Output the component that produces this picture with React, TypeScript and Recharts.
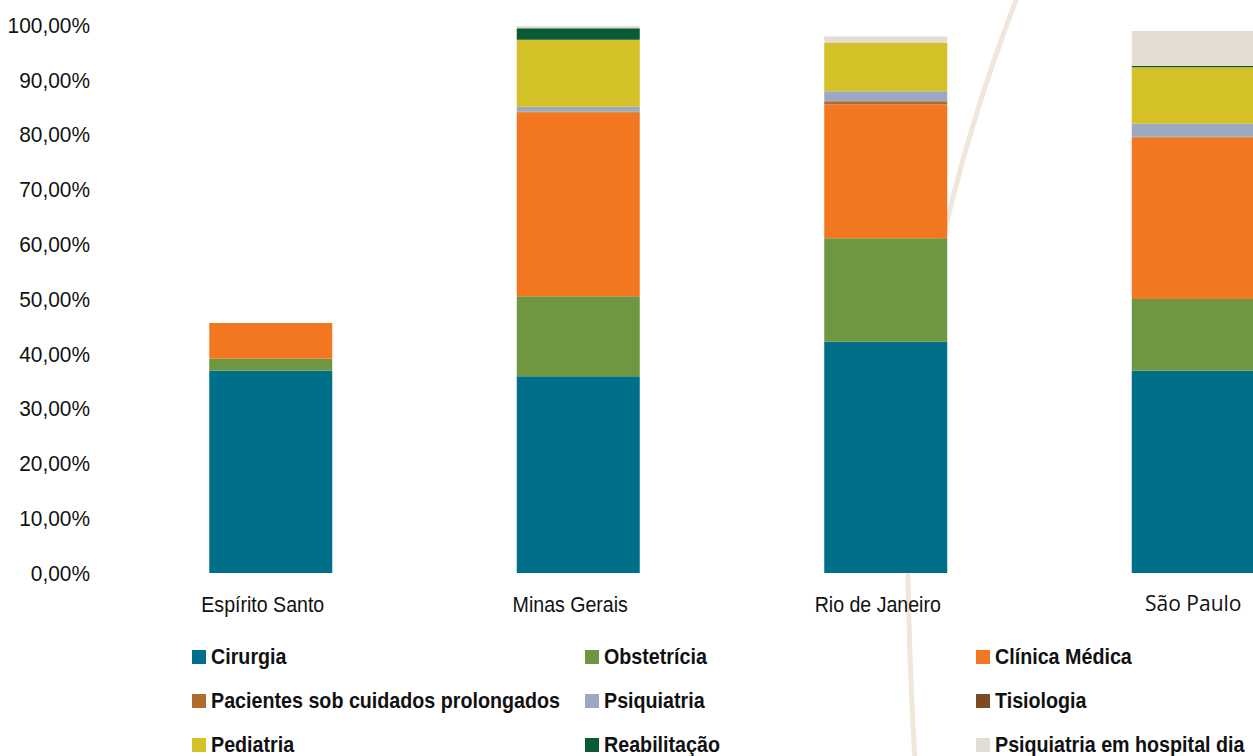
import { BarChart, Bar, XAxis, YAxis } from "recharts";

const states = ["Espírito Santo", "Minas Gerais", "Rio de Janeiro", "São Paulo"];

const cirurgia = [36.9, 35.9, 42.2, 36.9];
const obstetricia = [2.2, 14.6, 18.9, 13.1];
const clinicaMedica = [6.5, 33.6, 24.4, 29.5];
const pacientes = [0, 0.1, 0.6, 0.1];
const psiquiatria = [0, 0.9, 1.8, 2.4];
const tisiologia = [0, 0, 0, 0];
const pediatria = [0, 12.2, 8.8, 10.3];
const reabilitacao = [0, 2.1, 0, 0.2];
const hospitalDia = [0, 0.4, 1.2, 6.4];

const yTicks = [0, 10, 20, 30, 40, 50, 60, 70, 80, 90, 100];

const series = [
  { key: "cirurgia", name: "Cirurgia", color: "#006f8a", values: cirurgia },
  { key: "obstetricia", name: "Obstetrícia", color: "#6f9640", values: obstetricia },
  { key: "clinica", name: "Clínica Médica", color: "#f37721", values: clinicaMedica },
  { key: "pacientes", name: "Pacientes sob cuidados prolongados", color: "#ad6e2c", values: pacientes },
  { key: "psiquiatria", name: "Psiquiatria", color: "#9ba9c3", values: psiquiatria },
  { key: "tisiologia", name: "Tisiologia", color: "#7c4b21", values: tisiologia },
  { key: "pediatria", name: "Pediatria", color: "#d4c027", values: pediatria },
  { key: "reabilitacao", name: "Reabilitação", color: "#0a5a33", values: reabilitacao },
  { key: "hospitalDia", name: "Psiquiatria em hospital dia", color: "#e4ddd3", values: hospitalDia },
];

const data = states.map((state, i) => {
  const row: Record<string, string | number> = { state };
  series.forEach((s) => {
    row[s.key] = s.values[i];
  });
  return row;
});

const sans = "'Liberation Sans', Arial, sans-serif";

// the original uses a condensed Helvetica, so squeeze Liberation Sans a bit
function StateTick(props: any) {
  const { x, y, payload } = props;
  const sp = payload.value === "São Paulo";
  return (
    <g transform={`translate(${sp ? x : x - 8},${y})`}>
      <text
        transform={sp ? undefined : "scale(0.89,1)"}
        dy="0.71em"
        textAnchor="middle"
        fill="#111"
        fontFamily={sp ? "'Open Sans', sans-serif" : sans}
        fontSize={sp ? 21 : 22}
      >
        {payload.value}
      </text>
    </g>
  );
}

function PercentTick(props: any) {
  const { x, y, payload } = props;
  return (
    <g transform={`translate(${x},${y})`}>
      <text transform="scale(0.95,1)" dy="0.355em" textAnchor="end" fill="#111" fontFamily={sans} fontSize={22}>
        {`${payload.value},00%`}
      </text>
    </g>
  );
}

export default function App() {
  return (
    <div style={{ position: "relative", width: 1253, height: 756, overflow: "hidden", background: "#fff" }}>
      <style>{`body{margin:0}`}</style>
      <svg width={1253} height={756} style={{ position: "absolute", left: 0, top: 0 }}>
        <path d="M1018,-5 Q900,300 908,580 Q910,680 915,760" fill="none" stroke="#f0e6da" strokeWidth={5} />
      </svg>
      <div style={{ position: "absolute", left: 0, top: 0 }}>
        <BarChart
          width={1347}
          height={640}
          data={data}
          margin={{ top: 25, right: 0, left: 0, bottom: 17 }}
          barCategoryGap="30%"
        >
          <YAxis
            type="number"
            domain={[0, 100]}
            ticks={yTicks}
            width={117}
            axisLine={false}
            tickLine={false}
            tickMargin={21}
            interval={0}
            tick={<PercentTick />}
          />
          <XAxis
            dataKey="state"
            axisLine={false}
            tickLine={false}
            tickMargin={17}
            interval={0}
            height={50}
            tick={<StateTick />}
          />
          {series.map((s) => (
            <Bar key={s.key} dataKey={s.key} name={s.name} stackId="a" fill={s.color} isAnimationActive={false} />
          ))}
        </BarChart>
      </div>
      <div
        style={{
          position: "absolute",
          left: 192,
          top: 644,
          display: "grid",
          gridTemplateColumns: "393px 391px 300px",
          gridAutoRows: "44px",
          fontFamily: sans,
          fontWeight: "bold",
          fontSize: 22,
          color: "#111",
        }}
      >
        {series.map((s) => (
          <div key={s.key} style={{ display: "flex", alignItems: "center", height: 26, whiteSpace: "nowrap" }}>
            <span style={{ width: 14, height: 14, background: s.color, marginRight: 5, flex: "none" }} />
            <span style={{ display: "inline-block", transform: "scaleX(0.895)", transformOrigin: "left center" }}>
              {s.name}
            </span>
          </div>
        ))}
      </div>
    </div>
  );
}
